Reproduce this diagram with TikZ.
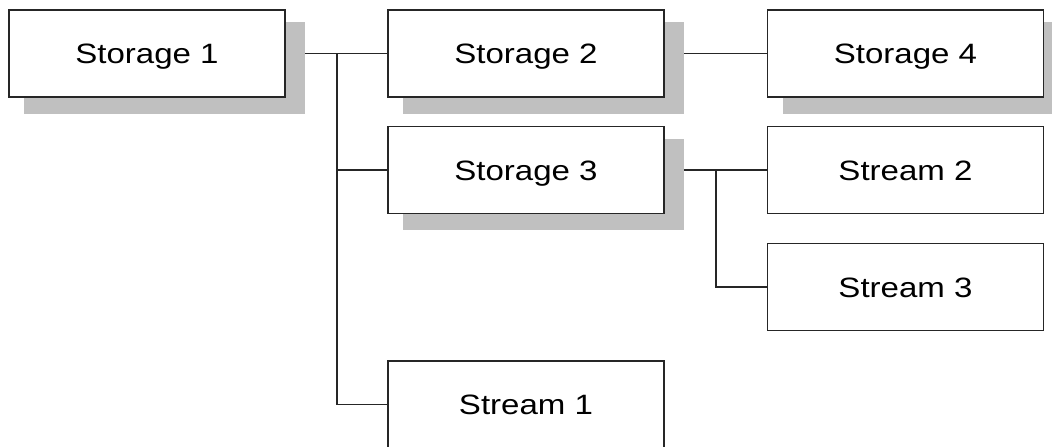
\documentclass[tikz,border=0pt]{standalone}
\usepackage{fontspec}
\setmainfont{Liberation Sans}[FakeStretch=1.18]
\usetikzlibrary{positioning, calc, backgrounds}
\definecolor{shadowgray}{RGB}{192,192,192}

\begin{document}
\begin{tikzpicture}[x=1pt, y=-1pt, line width=1.5pt,
	box/.style={draw=black!85, fill=white, minimum width=276pt, minimum height=87pt, inner sep=0pt, text height=20pt, text depth=0pt, font=\fontsize{28}{34}\selectfont},
	wire/.style={draw=black!85}]
	\useasboundingbox (0, 0) rectangle (1052, 447);
	\node[box] (s1) at (147, 53.5) {Storage 1};
	\node[box] (s2) at (526, 53.5) {Storage 2};
	\node[box] (s4) at (905.5, 53.5) {Storage 4};
	\node[box] (s3) at (526, 170) {Storage 3};
	\node[box] (t2) at (905.5, 170) {Stream 2};
	\node[box] (t3) at (905.5, 287) {Stream 3};
	\node[box] (t1) at (526, 404.5) {Stream 1};
	% grey shadows behind the storages
	\begin{scope}[on background layer]
		\foreach \n in {s1, s2, s3, s4}
			\fill[shadowgray] ($(\n.south west)+(16pt,-16pt)$) rectangle ($(\n.north east)+(19pt,-13pt)$);
	\end{scope}
	\coordinate (j1) at (337, 53.5);
	\coordinate (j2) at (716, 170);
	\draw[wire] ($(s1.east)+(19pt,0)$) -- (s2.west);
	\draw[wire] (j1) |- (s3.west);
	\draw[wire] (j1) |- (t1.west);
	\draw[wire] ($(s2.east)+(19pt,0)$) -- (s4.west);
	\draw[wire] ($(s3.east)+(19pt,0)$) -- (t2.west);
	\draw[wire] (j2) |- (t3.west);
\end{tikzpicture}
\end{document}
